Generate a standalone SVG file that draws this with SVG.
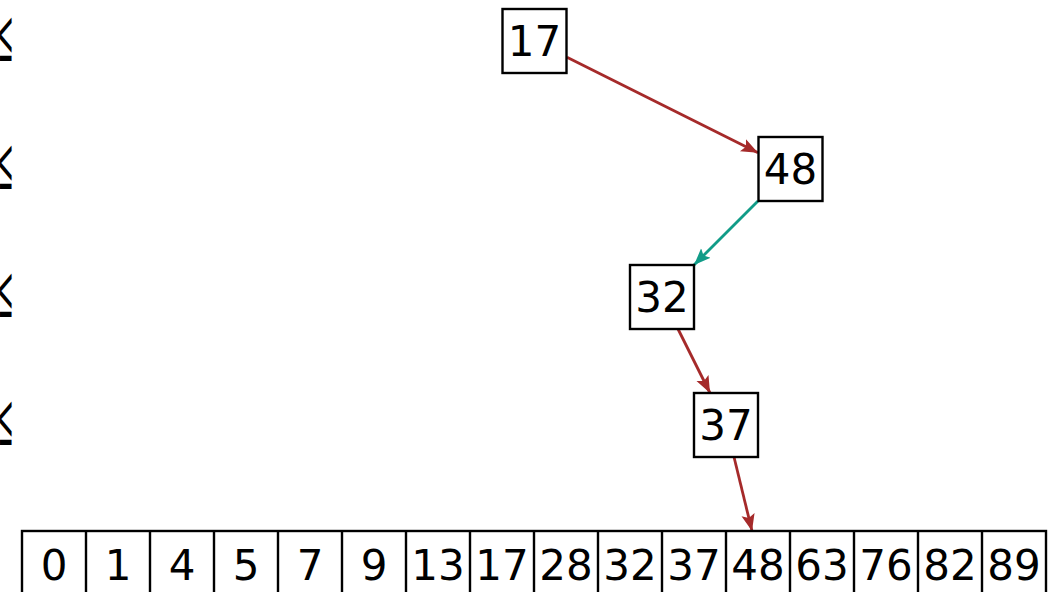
<svg xmlns="http://www.w3.org/2000/svg" width="1058" height="592" viewBox="0 0 1058 592">
<style>
.box{fill:#fff;stroke:#000;stroke-width:2.4}
.num{font-family:"DejaVu Sans",sans-serif;font-size:42px;text-anchor:middle;fill:#000}
.le{font-family:"DejaVu Sans",sans-serif;font-weight:200;font-size:58px;fill:#000}
.red{stroke:#a52a2a;stroke-width:2.8;fill:none;marker-end:url(#ar)}
.teal{stroke:#119c88;stroke-width:2.8;fill:none;marker-end:url(#at)}
.cell{fill:none;stroke:#000;stroke-width:2.4}
</style>
<defs>
<marker id="ar" viewBox="0 0 10 10" refX="10" refY="5" markerWidth="6" markerHeight="6" markerUnits="strokeWidth" orient="auto"><path d="M0,1 L10,5 L0,9 L2,5 Z" fill="#a52a2a"/></marker>
<marker id="at" viewBox="0 0 10 10" refX="10" refY="5" markerWidth="6" markerHeight="6" markerUnits="strokeWidth" orient="auto"><path d="M0,1 L10,5 L0,9 L2,5 Z" fill="#119c88"/></marker>
</defs>
<g id="labels">
<text class="le" transform="translate(-1,61) scale(0.42,1.25)">≤</text>
<text class="le" transform="translate(-1,189) scale(0.42,1.25)">≤</text>
<text class="le" transform="translate(-1,317) scale(0.42,1.25)">≤</text>
<text class="le" transform="translate(-1,445) scale(0.42,1.25)">≤</text>
</g>
<g id="connectors">
<line class="red" x1="567" y1="57.3" x2="758" y2="152.8"/>
<line class="teal" x1="758" y1="201" x2="694" y2="265"/>
<line class="red" x1="678" y1="329" x2="710" y2="393"/>
<line class="red" x1="734" y1="457" x2="752" y2="531"/>
</g>
<g id="node17"><rect class="box" x="502.5" y="9" width="64" height="64"/><text class="num" x="534.5" y="56">17</text></g>
<g id="node48"><rect class="box" x="758.5" y="137" width="64" height="64"/><text class="num" x="790.5" y="184">48</text></g>
<g id="node32"><rect class="box" x="630" y="265" width="64" height="64"/><text class="num" x="662" y="312">32</text></g>
<g id="node37"><rect class="box" x="694" y="393" width="64" height="64"/><text class="num" x="726" y="440">37</text></g>
<g id="array">
<rect class="cell" x="22" y="531" width="1024" height="80"/>
<path class="cell" d="M86,531V592M150,531V592M214,531V592M278,531V592M342,531V592M406,531V592M470,531V592M534,531V592M598,531V592M662,531V592M726,531V592M790,531V592M854,531V592M918,531V592M982,531V592"/>
<text class="num" x="54" y="580">0</text>
<text class="num" x="118" y="580">1</text>
<text class="num" x="182" y="580">4</text>
<text class="num" x="246" y="580">5</text>
<text class="num" x="310" y="580">7</text>
<text class="num" x="374" y="580">9</text>
<text class="num" x="438" y="580">13</text>
<text class="num" x="502" y="580">17</text>
<text class="num" x="566" y="580">28</text>
<text class="num" x="630" y="580">32</text>
<text class="num" x="694" y="580">37</text>
<text class="num" x="758" y="580">48</text>
<text class="num" x="822" y="580">63</text>
<text class="num" x="886" y="580">76</text>
<text class="num" x="950" y="580">82</text>
<text class="num" x="1014" y="580">89</text>
</g>
</svg>
